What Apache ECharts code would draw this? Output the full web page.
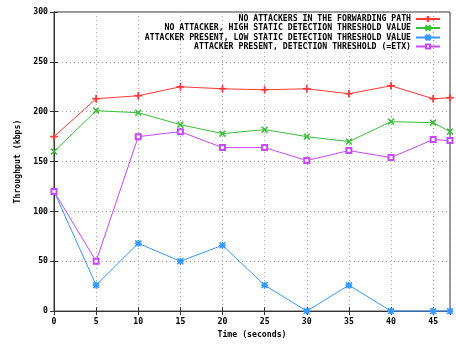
<!DOCTYPE html>
<html><head><meta charset="utf-8">
<script src="https://cdn.jsdelivr.net/npm/echarts@6/dist/echarts.min.js"></script>
<style>html,body{margin:0;padding:0;background:#fff}#c{width:456px;height:344px}</style>
</head><body><div id="c"></div>
<script>
const timeValues = [0, 5, 10, 15, 20, 25, 30, 35, 40, 45, 47];
const seriesNames = [
  "NO ATTACKERS IN THE FORWARDING PATH",
  "NO ATTACKER, HIGH STATIC DETECTION THRESHOLD VALUE",
  "ATTACKER PRESENT, LOW STATIC DETECTION THRESHOLD VALUE",
  "ATTACKER PRESENT, DETECTION THRESHOLD (=ETX)"
];
const noAttackers = [175, 213, 216, 225, 223, 222, 223, 218, 226, 213, 214];
const highStatic = [160, 201, 199, 187, 178, 182, 175, 170, 190, 189, 180];
const lowStatic = [120, 26, 68, 50, 66, 26, 0, 26, 0, 0, 0];
const etxThreshold = [120, 50, 175, 180, 164, 164, 151, 161, 154, 172, 171];
const yTicks = [0, 50, 100, 150, 200, 250, 300];
const xTicks = [0, 5, 10, 15, 20, 25, 30, 35, 40, 45];

const FONT = 'DejaVu Sans Mono';
const colors = ['#ff3838', '#38c038', '#3898ff', '#c848ff'];
const symbols = [
  'path://M0,4.5h10v1h-10z M4.5,0h1v10h-1z',
  'path://M1,0L5,4L9,0L10,1L6,5L10,9L9,10L5,6L1,10L0,9L4,5L0,1z',
  'path://M0,4.3h10v1.4h-10z M4.3,0h1.4v10h-1.4z M1,0L5,4L9,0L10,1L6,5L10,9L9,10L5,6L1,10L0,9L4,5L0,1z',
  'emptyRect'
];
const symSizes = [7, 6, 6, 5];
const allData = [noAttackers, highStatic, lowStatic, etxThreshold];

const series = allData.map((vals, i) => ({
  name: seriesNames[i],
  type: 'line',
  data: vals.map((v, j) => [timeValues[j], v]),
  symbol: symbols[i],
  symbolSize: symSizes[i],
  showSymbol: true,
  clip: false,
  animation: false,
  lineStyle: { color: colors[i], width: 1 },
  itemStyle: { color: colors[i], borderColor: colors[i], borderWidth: 1 }
}));

const legendTops = [15, 24, 33.5, 42.5];
const legends = seriesNames.map((n, i) => ({
  data: [n],
  right: 15,
  top: legendTops[i],
  align: 'right',
  orient: 'vertical',
  padding: 0,
  itemWidth: 24,
  itemHeight: 5,
  selectedMode: false,
  textStyle: { fontFamily: FONT, fontWeight: 'bold', fontSize: 8.2, color: '#000', lineHeight: 8 }
}));

const labelStyle = { fontFamily: FONT, fontWeight: 'bold', fontSize: 8.2, color: '#000' };
const chart = echarts.init(document.getElementById('c'), null, { renderer: 'canvas' });
chart.setOption({
  animation: false,
  backgroundColor: '#fff',
  grid: { left: 54, right: 6, top: 12, bottom: 28, show: true, borderColor: '#333', borderWidth: 1, backgroundColor: 'transparent' },
  legend: legends,
  xAxis: [{
    type: 'value', min: 0, max: 47, interval: 5,
    name: 'Time (seconds)', nameLocation: 'middle', nameGap: 19,
    nameTextStyle: labelStyle,
    axisLine: { show: true, lineStyle: { color: '#333' } },
    axisTick: { show: true, inside: true, length: 4, lineStyle: { color: '#333' } },
    axisLabel: Object.assign({ margin: 7, showMaxLabel: false,
      formatter: v => xTicks.indexOf(v) >= 0 ? String(v) : '' }, labelStyle),
    splitLine: { show: true, lineStyle: { color: '#aaa', type: [1, 3], width: 1 } }
  }, {
    type: 'value', min: 0, max: 47, interval: 5, position: 'top',
    axisLine: { show: true, lineStyle: { color: '#333' } },
    axisTick: { show: true, inside: true, length: 4, lineStyle: { color: '#333' } },
    axisLabel: { show: false }, splitLine: { show: false }
  }],
  yAxis: [{
    type: 'value', min: 0, max: 300, interval: 50,
    name: 'Throughput (kbps)', nameLocation: 'middle', nameGap: 31,
    nameTextStyle: labelStyle,
    axisLine: { show: true, lineStyle: { color: '#333' } },
    axisTick: { show: true, inside: true, length: 4, lineStyle: { color: '#333' } },
    axisLabel: Object.assign({ margin: 6,
      formatter: v => yTicks.indexOf(v) >= 0 ? String(v) : '' }, labelStyle),
    splitLine: { show: true, lineStyle: { color: '#aaa', type: [1, 3], width: 1 } }
  }, {
    type: 'value', min: 0, max: 300, interval: 50, position: 'right',
    axisLine: { show: true, lineStyle: { color: '#333' } },
    axisTick: { show: true, inside: true, length: 4, lineStyle: { color: '#333' } },
    axisLabel: { show: false }, splitLine: { show: false }
  }],
  series: series
});
</script></body></html>
